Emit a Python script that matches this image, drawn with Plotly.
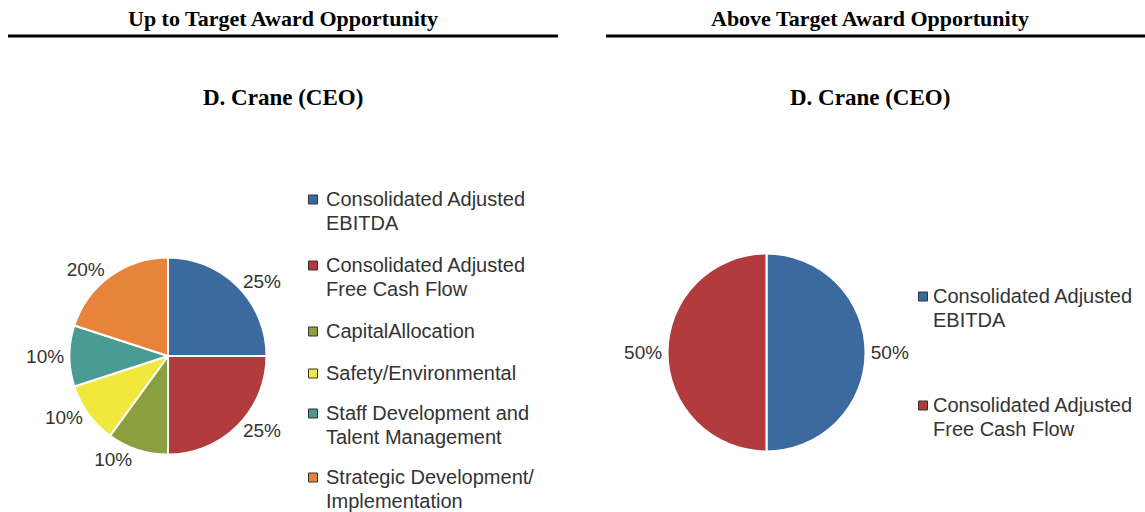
import plotly.graph_objects as go

# ---- data ----
left_labels = ["Consolidated Adjusted\nEBITDA", "Consolidated Adjusted\nFree Cash Flow",
               "CapitalAllocation", "Safety/Environmental",
               "Staff Development and\nTalent Management", "Strategic Development/\nImplementation"]
left_values = [25, 25, 10, 10, 10, 20]
left_colors = ["#3D6A9E", "#B13B3D", "#8C9F3F", "#F1E83D", "#4A9C92", "#E7833B"]

right_labels = ["Consolidated Adjusted\nEBITDA", "Consolidated Adjusted\nFree Cash Flow"]
right_values = [50, 50]
right_colors = ["#3D6A9E", "#B13B3D"]

section_titles = ["Up to Target Award Opportunity", "Above Target Award Opportunity"]
sub_titles = ["D. Crane (CEO)", "D. Crane (CEO)"]

W, H = 1145, 512
def px(x): return x / W
def py(y): return 1 - y / H

SANS = "Liberation Sans, Arial, Helvetica"
SERIF = "Liberation Serif, Times New Roman"

fig = go.Figure()

def add_pie(labels, values, colors, cx, cy, r):
    fig.add_trace(go.Pie(
        labels=[l.replace("\n", " ") for l in labels], values=values,
        marker=dict(colors=colors, line=dict(color="white", width=2)),
        sort=False, direction="clockwise", rotation=0,
        textinfo="percent", textposition="outside",
        texttemplate="%{percent:.0%}",
        textfont=dict(family=SANS, size=19, color="#333333"),
        showlegend=False, hoverinfo="label+percent",
        domain=dict(x=[px(cx - r), px(cx + r)], y=[py(cy + r), py(cy - r)]),
    ))

add_pie(left_labels, left_values, left_colors, 168, 356, 98.5)
add_pie(right_labels, right_values, right_colors, 766.5, 352.5, 99)

shapes = []
annotations = []

# headers
for title, sub, (x0, x1), cx in zip(section_titles, sub_titles, [(8, 558), (606, 1145)], [283, 870]):
    annotations.append(dict(x=px(cx), y=py(18), xref="paper", yref="paper", text="<b>%s</b>" % title,
                            showarrow=False, xanchor="center", yanchor="middle",
                            font=dict(family=SERIF, size=22, color="#000")))
    annotations.append(dict(x=px(cx), y=py(97), xref="paper", yref="paper", text="<b>%s</b>" % sub,
                            showarrow=False, xanchor="center", yanchor="middle",
                            font=dict(family=SERIF, size=23, color="#000")))
    shapes.append(dict(type="line", xref="paper", yref="paper", x0=px(x0), x1=px(x1), y0=py(36), y1=py(36),
                       line=dict(color="#000", width=3)))

# legends
def add_legend(labels, colors, sq_x, txt_x, first_lines_y, gap):
    for lab, col, y0 in zip(labels, colors, first_lines_y):
        lines = lab.split("\n")
        for i, ln in enumerate(lines):
            annotations.append(dict(x=px(txt_x), y=py(y0 + gap * i), xref="paper", yref="paper", text=ln,
                                    showarrow=False, xanchor="left", yanchor="middle",
                                    font=dict(family=SANS, size=20, color="#333333")))
        shapes.append(dict(type="rect", xref="paper", yref="paper",
                           x0=px(sq_x - 4.5), x1=px(sq_x + 4.5), y0=py(y0 + 5), y1=py(y0 - 4),
                           fillcolor=col, line=dict(color="#333333", width=1)))

add_legend(left_labels, left_colors, 313, 324, [199, 265, 331, 373, 413, 477], 23.5)
add_legend(right_labels, right_colors, 923, 931, [296, 405], 24)

fig.update_layout(
    width=W, height=H, margin=dict(l=0, r=0, t=0, b=0),
    paper_bgcolor="white", plot_bgcolor="white",
    shapes=shapes, annotations=annotations,
)

fig.write_html("out.html", config={"displayModeBar": False},
               post_script="document.body.style.margin='0';document.body.style.padding='0';")
